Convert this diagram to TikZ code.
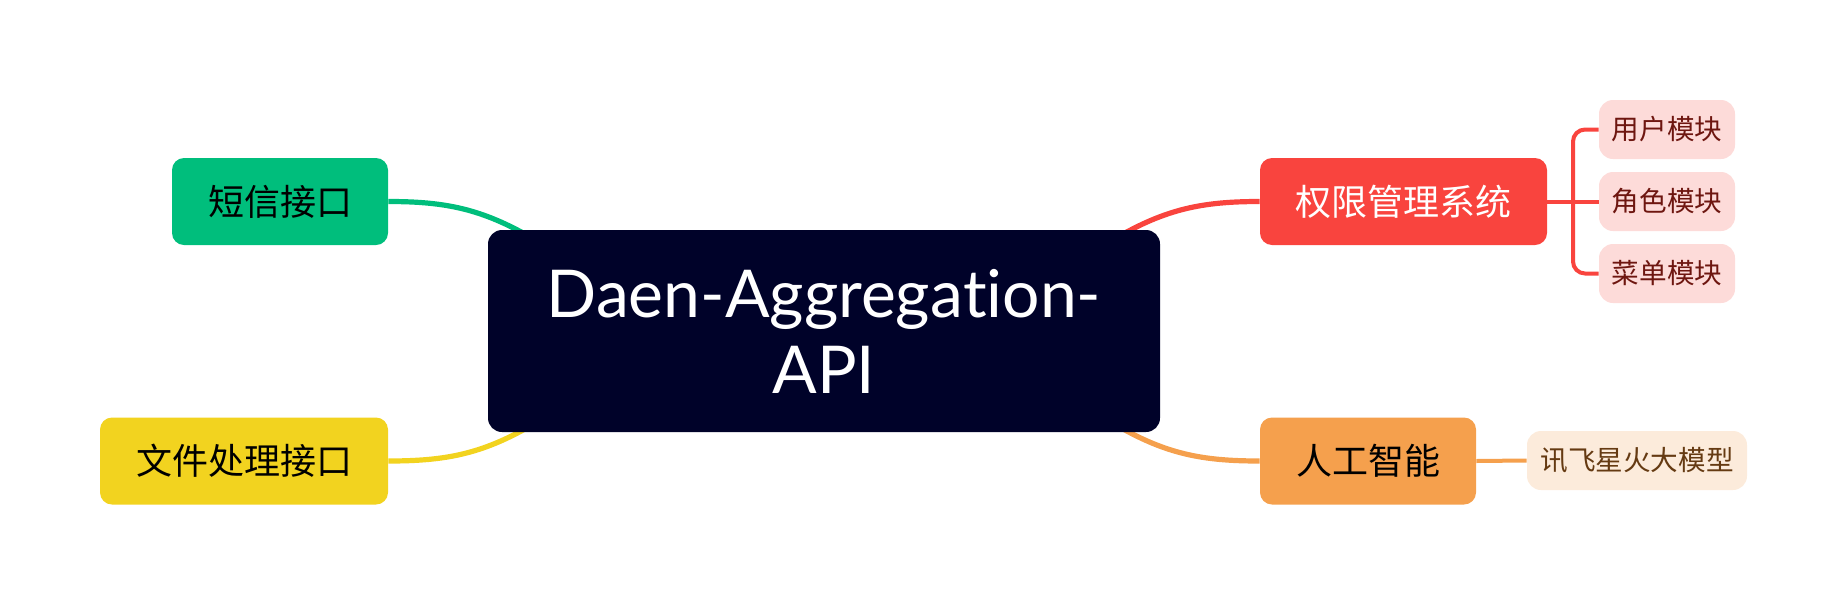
\documentclass[tikz,border=0pt]{standalone}
\usepackage{fontspec}
\setmainfont{Noto Sans CJK SC}
\newfontfamily\rootfont[Ligatures=NoCommon]{Lato}
\usetikzlibrary{backgrounds}
\definecolor{rootnavy}{HTML}{000229}
\definecolor{smsgreen}{HTML}{00BE7C}
\definecolor{fileyellow}{HTML}{F2D31F}
\definecolor{permred}{HTML}{F9443E}
\definecolor{aiorange}{HTML}{F5A04D}
\definecolor{subpink}{HTML}{FDDBD9}
\definecolor{subpinktext}{HTML}{6E1610}
\definecolor{subpeach}{HTML}{FCEBDB}
\definecolor{subpeachtext}{HTML}{653A12}

\begin{document}
\begin{tikzpicture}[
    x=0.5pt, y=-0.5pt,
    root/.style={rectangle, rounded corners=7pt, fill=rootnavy, text=white, inner sep=0pt,
      minimum width=336pt, minimum height=101pt, align=center,
      font=\rootfont\fontsize{33}{38}\selectfont},
    topic/.style={rectangle, rounded corners=6pt, inner sep=0pt, minimum height=43.5pt,
      font=\fontsize{18}{22}\selectfont},
    leaf/.style={rectangle, rounded corners=7pt, inner sep=0pt, minimum height=29.5pt,
      font=\fontsize{13.8}{16}\selectfont},
    wire/.style={line width=2.6pt},
    twig/.style={line width=2pt, rounded corners=6pt},
  ]
  \useasboundingbox (0,0) rectangle (1848,606);

  % root
  \node[root] (api) at (824,331) {Daen-Aggrega\kern0pt tion-\\API};

  % first-level topics
  \node[topic, fill=smsgreen, minimum width=108pt] (sms) at (280,201.5) {短信接口};
  \node[topic, fill=fileyellow, minimum width=144pt] (file) at (244,461) {文件处理接口};
  \node[topic, fill=permred, text=white, minimum width=143.5pt] (perm) at (1403.5,201.5) {权限管理系统};
  \node[topic, fill=aiorange, minimum width=108pt] (ai) at (1368,461) {人工智能};

  % leaves
  \node[leaf, fill=subpink, text=subpinktext, minimum width=68pt] (user) at (1667,129.5) {用户模块};
  \node[leaf, fill=subpink, text=subpinktext, minimum width=68pt] (role) at (1667,201.5) {角色模块};
  \node[leaf, fill=subpink, text=subpinktext, minimum width=68pt] (menu) at (1667,273.5) {菜单模块};
  \node[leaf, fill=subpeach, text=subpeachtext, minimum width=110pt] (xf) at (1637,460.5) {讯飞星火大模型};

  % ends hidden under the root
  \coordinate (rootnw) at (532,238);
  \coordinate (rootsw) at (532,425);
  \coordinate (rootne) at (1116,238);
  \coordinate (rootse) at (1116,425);
  \coordinate (fork) at (1573,201.5);

  \begin{scope}[on background layer]
    \draw[wire, smsgreen] (sms.east) to[out=0, in=150] (rootnw);
    \draw[wire, fileyellow] (file.east) to[out=0, in=210] (rootsw);
    \draw[wire, permred] (perm.west) to[out=180, in=30] (rootne);
    \draw[wire, aiorange] (ai.west) to[out=180, in=-30] (rootse);
  \end{scope}

  % branches to leaves
  \draw[twig, permred] (user.west) -| (fork) |- (menu.west);
  \draw[twig, permred] (perm.east) -- (role.west);
  \draw[twig, aiorange] (ai.east) -- (xf.west);
\end{tikzpicture}
\end{document}
